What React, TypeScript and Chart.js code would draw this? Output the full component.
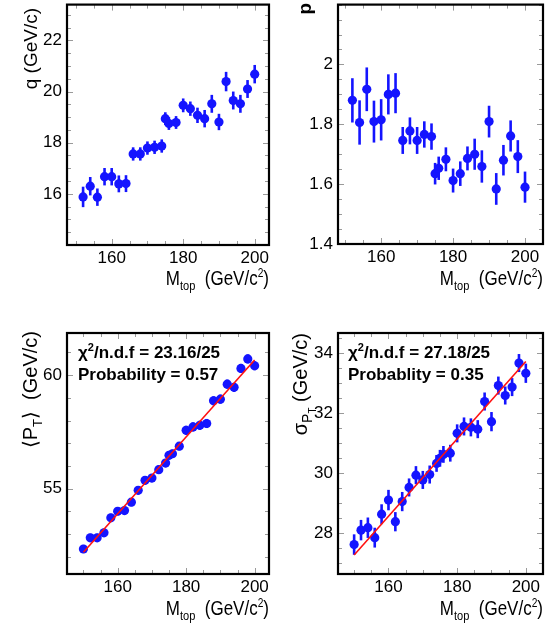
import React, { useEffect, useRef } from "react";
import { Chart, registerables } from "chart.js";

Chart.register(...registerables);

// ---------- data ----------
const massTop = [152, 154, 156, 158, 160, 162, 164, 166, 168, 170, 172, 174, 175, 176, 178, 180, 182, 184, 186, 188, 190, 192, 194, 196, 198, 200];
const massAll = [150, 152, 154, 156, 158, 160, 162, 164, 166, 168, 170, 172, 174, 175, 176, 178, 180, 182, 184, 186, 188, 190, 192, 194, 196, 198, 200];

const qValues = [15.88, 16.3, 15.87, 16.67, 16.67, 16.39, 16.4, 17.56, 17.56, 17.79, 17.82, 17.87, 18.94, 18.75, 18.79, 19.46, 19.33, 19.07, 18.94, 19.52, 18.81, 20.39, 19.65, 19.52, 20.1, 20.68];
const qErrors = [0.4, 0.36, 0.34, 0.34, 0.34, 0.33, 0.33, 0.26, 0.26, 0.26, 0.26, 0.26, 0.25, 0.25, 0.25, 0.27, 0.28, 0.3, 0.34, 0.35, 0.32, 0.38, 0.35, 0.35, 0.35, 0.36];

const pValues = [1.88, 1.806, 1.917, 1.809, 1.815, 1.9, 1.904, 1.746, 1.778, 1.746, 1.766, 1.759, 1.635, 1.653, 1.683, 1.612, 1.635, 1.686, 1.7, 1.659, 1.809, 1.584, 1.68, 1.761, 1.692, 1.59];
const pErrors = [0.074, 0.074, 0.073, 0.07, 0.069, 0.067, 0.067, 0.045, 0.045, 0.045, 0.044, 0.044, 0.036, 0.039, 0.04, 0.04, 0.041, 0.04, 0.052, 0.054, 0.053, 0.053, 0.051, 0.052, 0.055, 0.052];

const ptMean = [52.35, 52.84, 52.84, 53.06, 53.72, 54.01, 54.04, 54.41, 54.93, 55.37, 55.47, 55.84, 56.13, 56.47, 56.54, 56.87, 57.57, 57.72, 57.79, 57.87, 58.87, 58.94, 59.6, 59.46, 60.29, 60.71, 60.41];
const ptMeanErr = [0.18, 0.18, 0.18, 0.18, 0.18, 0.18, 0.18, 0.18, 0.18, 0.18, 0.18, 0.18, 0.18, 0.18, 0.18, 0.18, 0.2, 0.2, 0.2, 0.2, 0.2, 0.2, 0.2, 0.2, 0.2, 0.2, 0.2];
const ptMeanFitX = [150, 200];
const ptMeanFitY = [52.21, 60.66];

const ptSigma = [27.63, 28.11, 28.19, 27.86, 28.64, 29.11, 28.39, 29.06, 29.53, 29.94, 29.78, 29.96, 30.33, 30.5, 30.63, 30.67, 31.33, 31.56, 31.53, 31.47, 32.39, 31.72, 32.92, 32.59, 32.87, 33.67, 33.33];
const ptSigmaErr = [0.34, 0.34, 0.34, 0.33, 0.33, 0.34, 0.32, 0.32, 0.3, 0.3, 0.3, 0.3, 0.28, 0.28, 0.28, 0.28, 0.3, 0.3, 0.3, 0.3, 0.3, 0.32, 0.3, 0.3, 0.3, 0.3, 0.32];
const ptSigmaFitX = [150, 200];
const ptSigmaFitY = [27.28, 33.72];

const xTickLabels = [160, 180, 200];
const qTicks = [16, 18, 20, 22];
const pTicks = [1.4, 1.6, 1.8, 2];
const ptMeanTicks = [55, 60];
const ptSigmaTicks = [28, 30, 32, 34];

const fitText1 = ["23.16/25", "0.57"];
const fitText2 = ["27.18/25", "0.35"];

// ---------- drawing helpers ----------
type Part = { t: string; size: number; dy?: number; bold?: boolean };
const FAMILY = "'Liberation Sans', Arial, sans-serif";
const TICK_FAMILY = "'Liberation Sans', Arial, sans-serif";
const BLUE = "#1414ff";

function partsWidth(ctx: CanvasRenderingContext2D, parts: Part[]) {
  let w = 0;
  for (const p of parts) {
    ctx.font = `${p.bold ? "bold " : ""}${p.size}px ${FAMILY}`;
    w += ctx.measureText(p.t).width;
  }
  return w;
}
// sx: horizontal squeeze factor along the text direction
function drawParts(ctx: CanvasRenderingContext2D, parts: Part[], x: number, y: number, align: "left" | "right", sx = 1) {
  const total = partsWidth(ctx, parts) * sx;
  ctx.save();
  ctx.translate(align === "right" ? x - total : x, y);
  ctx.scale(sx, 1);
  let cx = 0;
  ctx.textAlign = "left";
  ctx.textBaseline = "alphabetic";
  for (const p of parts) {
    ctx.font = `${p.bold ? "bold " : ""}${p.size}px ${FAMILY}`;
    ctx.fillText(p.t, cx, p.dy || 0);
    cx += ctx.measureText(p.t).width;
  }
  ctx.restore();
}

type PanelCfg = {
  left: number; top: number; w: number; h: number;
  area: { l: number; t: number; r: number; b: number };
  xMin: number; xMax: number; yMin: number; yMax: number;
  yTicks: number[]; yMinor: number; yDecimals: number;
  xs: number[]; ys: number[]; errs: number[];
  fitX?: number[]; fitY?: number[];
  yTitle: Part[]; yTitleX: number; yTitleTop: number;
  xTitleBaseline: number;
  notes?: Part[][]; notesX?: number; notesY?: number;
};

const xTitle: Part[] = [
  { t: "M", size: 20 },
  { t: "top", size: 13, dy: 5 },
  { t: "  (GeV/c", size: 20 },
  { t: "2", size: 12, dy: -8 },
  { t: ")", size: 20 },
];

function Panel({ cfg }: { cfg: PanelCfg }) {
  const ref = useRef<HTMLCanvasElement>(null);
  useEffect(() => {
    const c = cfg;
    const deco = {
      id: "deco",
      beforeDatasetsDraw(chart: any) {
        const ctx = chart.ctx as CanvasRenderingContext2D;
        const xs = chart.scales.x, ys = chart.scales.y;
        ctx.save();
        ctx.strokeStyle = BLUE;
        ctx.lineWidth = 2.6;
        for (let i = 0; i < c.xs.length; i++) {
          const px = xs.getPixelForValue(c.xs[i]);
          ctx.beginPath();
          ctx.moveTo(px, ys.getPixelForValue(c.ys[i] - c.errs[i]));
          ctx.lineTo(px, ys.getPixelForValue(c.ys[i] + c.errs[i]));
          ctx.stroke();
        }
        ctx.restore();
      },
      afterDraw(chart: any) {
        const ctx = chart.ctx as CanvasRenderingContext2D;
        const a = chart.chartArea;
        const xs = chart.scales.x, ys = chart.scales.y;
        ctx.save();
        // inner ticks
        ctx.strokeStyle = "#9a9a9a";
        ctx.lineWidth = 1;
        for (let v = Math.ceil(c.xMin / 5) * 5; v <= c.xMax; v += 5) {
          const px = Math.round(xs.getPixelForValue(v)) + 0.5;
          const len = v % 20 === 0 ? 6 : 4;
          ctx.beginPath();
          ctx.moveTo(px, a.bottom); ctx.lineTo(px, a.bottom - len);
          ctx.moveTo(px, a.top); ctx.lineTo(px, a.top + len);
          ctx.stroke();
        }
        const n0 = Math.ceil(c.yMin / c.yMinor - 1e-6);
        const n1 = Math.floor(c.yMax / c.yMinor + 1e-6);
        for (let n = n0; n <= n1; n++) {
          const v = n * c.yMinor;
          const py = Math.round(ys.getPixelForValue(v)) + 0.5;
          const major = c.yTicks.some((t) => Math.abs(t - v) < 1e-6);
          const len = major ? 6 : 4;
          ctx.beginPath();
          ctx.moveTo(a.left, py); ctx.lineTo(a.left + len, py);
          ctx.moveTo(a.right, py); ctx.lineTo(a.right - len, py);
          ctx.stroke();
        }
        // frame
        ctx.strokeStyle = "#000";
        ctx.lineWidth = 2.2;
        ctx.strokeRect(a.left, a.top, a.right - a.left, a.bottom - a.top);
        // titles
        ctx.fillStyle = "#000";
        drawParts(ctx, xTitle, a.right, c.xTitleBaseline, "right", 0.85);
        ctx.save();
        ctx.translate(c.yTitleX, c.yTitleTop);
        ctx.rotate(-Math.PI / 2);
        drawParts(ctx, c.yTitle, 0, 0, "right");
        ctx.restore();
        if (c.notes) {
          c.notes.forEach((line, i) => drawParts(ctx, line, c.notesX!, c.notesY! + i * 22, "left", 1));
        }
        ctx.restore();
      },
    };

    const datasets: any[] = [];
    if (c.fitX && c.fitY) {
      datasets.push({
        type: "line",
        data: c.fitX.map((x, i) => ({ x, y: c.fitY![i] })),
        borderColor: "#ff1010",
        borderWidth: 1.6,
        pointRadius: 0,
        fill: false,
      });
    }
    datasets.push({
      type: "scatter",
      data: c.xs.map((x, i) => ({ x, y: c.ys[i] })),
      backgroundColor: BLUE,
      borderWidth: 0,
      pointRadius: 4.6,
    });

    const chart = new Chart(ref.current!, {
      type: "scatter",
      data: { datasets },
      options: {
        responsive: false,
        animation: false,
        events: [],
        devicePixelRatio: 1,
        layout: { padding: { top: c.area.t, right: c.w - c.area.r, left: 0, bottom: 0 } },
        plugins: { legend: { display: false }, tooltip: { enabled: false } },
        scales: {
          x: {
            type: "linear",
            min: c.xMin,
            max: c.xMax,
            grid: { display: false, drawTicks: false },
            border: { display: false },
            afterBuildTicks: (s: any) => { s.ticks = xTickLabels.map((v) => ({ value: v })); },
            afterFit: (s: any) => {
              s.height = c.h - c.area.b;
              s.paddingLeft = 0; s.paddingRight = 0; s.paddingTop = 0; s.paddingBottom = 0;
            },
            ticks: { color: "#000", padding: 3, maxRotation: 0, autoSkip: false, font: { family: TICK_FAMILY, size: 17 } },
          },
          y: {
            type: "linear",
            min: c.yMin,
            max: c.yMax,
            grid: { display: false, drawTicks: false },
            border: { display: false },
            afterBuildTicks: (s: any) => { s.ticks = c.yTicks.map((v) => ({ value: v })); },
            afterFit: (s: any) => {
              s.width = c.area.l;
              s.paddingLeft = 0; s.paddingRight = 0; s.paddingTop = 0; s.paddingBottom = 0;
            },
            ticks: {
              color: "#000",
              padding: 5,
              autoSkip: false,
              font: { family: TICK_FAMILY, size: 17 },
              callback: (v: any) => (c.yDecimals ? (Math.abs(v - Math.round(v)) < 1e-9 ? String(Math.round(v)) : Number(v).toFixed(c.yDecimals)) : String(v)),
            },
          },
        },
      },
      plugins: [deco],
    } as any);
    return () => chart.destroy();
  }, [cfg]);
  return (
    <canvas
      ref={ref}
      width={cfg.w}
      height={cfg.h}
      style={{ position: "absolute", left: cfg.left, top: cfg.top, width: cfg.w, height: cfg.h }}
    />
  );
}

const panels: PanelCfg[] = [
  {
    left: 0, top: 0, w: 276, h: 300,
    area: { l: 67, t: 3, r: 269, b: 245 },
    xMin: 147.5, xMax: 204, yMin: 14, yMax: 23.4,
    yTicks: qTicks, yMinor: 0.5, yDecimals: 0,
    xs: massTop, ys: qValues, errs: qErrors,
    yTitle: [{ t: "q (GeV/c)", size: 19 }], yTitleX: 37, yTitleTop: 8,
    xTitleBaseline: 285,
  },
  {
    left: 276, top: 0, w: 277, h: 300,
    area: { l: 62, t: 3, r: 267, b: 244 },
    xMin: 148, xMax: 205, yMin: 1.4, yMax: 2.2,
    yTicks: pTicks, yMinor: 0.05, yDecimals: 1,
    xs: massTop, ys: pValues, errs: pErrors,
    yTitle: [{ t: "p", size: 19, bold: true }], yTitleX: 35, yTitleTop: 3,
    xTitleBaseline: 285,
  },
  {
    left: 0, top: 300, w: 276, h: 323,
    area: { l: 67, t: 33, r: 269, b: 274 },
    xMin: 145.2, xMax: 204.2, yMin: 51.25, yMax: 61.85,
    yTicks: ptMeanTicks, yMinor: 1, yDecimals: 0,
    xs: massAll, ys: ptMean, errs: ptMeanErr,
    fitX: ptMeanFitX, fitY: ptMeanFitY,
    yTitle: [
      { t: "\u27E8P", size: 20 },
      { t: "T", size: 13, dy: 5 },
      { t: "\u27E9  (GeV/c)", size: 20 },
    ],
    yTitleX: 37, yTitleTop: 31,
    xTitleBaseline: 315,
    notes: [
      [{ t: "\u03C7", size: 17, bold: true }, { t: "2", size: 11, bold: true, dy: -7 }, { t: "/n.d.f = " + fitText1[0], size: 17, bold: true }],
      [{ t: "Probability = " + fitText1[1], size: 17, bold: true }],
    ],
    notesX: 78, notesY: 58,
  },
  {
    left: 276, top: 300, w: 277, h: 323,
    area: { l: 62, t: 33, r: 267, b: 274 },
    xMin: 145.3, xMax: 205, yMin: 26.65, yMax: 34.67,
    yTicks: ptSigmaTicks, yMinor: 0.5, yDecimals: 0,
    xs: massAll, ys: ptSigma, errs: ptSigmaErr,
    fitX: ptSigmaFitX, fitY: ptSigmaFitY,
    yTitle: [
      { t: "\u03C3", size: 20 },
      { t: "P", size: 14, dy: 5 },
      { t: "T", size: 10, dy: 9 },
      { t: " (GeV/c)", size: 20 },
    ],
    yTitleX: 31, yTitleTop: 33,
    xTitleBaseline: 315,
    notes: [
      [{ t: "\u03C7", size: 17, bold: true }, { t: "2", size: 11, bold: true, dy: -7 }, { t: "/n.d.f = " + fitText2[0], size: 17, bold: true }],
      [{ t: "Probablity = " + fitText2[1], size: 17, bold: true }],
    ],
    notesX: 72, notesY: 58,
  },
];

export default function App() {
  return (
    <div style={{ position: "absolute", left: 0, top: 0, width: 553, height: 623, background: "#fff", overflow: "hidden" }}>
      {panels.map((p, i) => (
        <Panel key={i} cfg={p} />
      ))}
    </div>
  );
}
